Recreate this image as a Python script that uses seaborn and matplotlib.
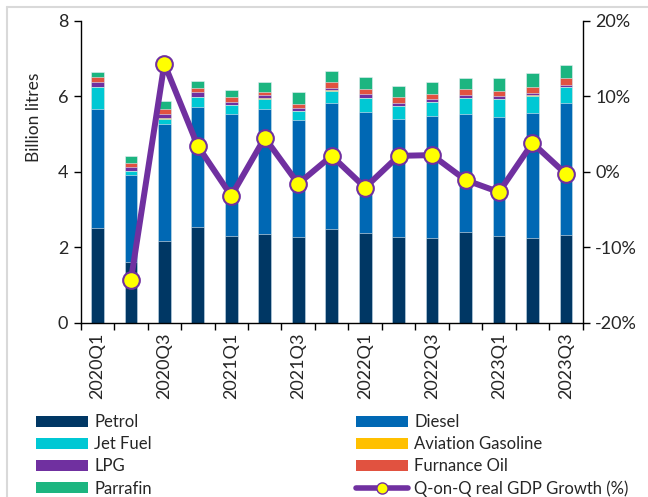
import numpy as np
import pandas as pd
import matplotlib
matplotlib.use('Agg')
import matplotlib.pyplot as plt
import seaborn as sns
from matplotlib.patches import Patch
from matplotlib.lines import Line2D

quarters = ['2020Q1', '2020Q2', '2020Q3', '2020Q4', '2021Q1', '2021Q2', '2021Q3', '2021Q4',
            '2022Q1', '2022Q2', '2022Q3', '2022Q4', '2023Q1', '2023Q2', '2023Q3']
petrol = [2.50, 1.60, 2.16, 2.53, 2.30, 2.35, 2.26, 2.47, 2.37, 2.26, 2.24, 2.41, 2.29, 2.24, 2.32]
diesel = [3.15, 2.32, 3.10, 3.19, 3.22, 3.30, 3.10, 3.36, 3.22, 3.14, 3.24, 3.11, 3.16, 3.31, 3.51]
jet_fuel = [0.59, 0.09, 0.14, 0.26, 0.25, 0.28, 0.25, 0.32, 0.35, 0.33, 0.37, 0.42, 0.47, 0.46, 0.41]
aviation_gasoline = [0.01, 0.01, 0.01, 0.01, 0.01, 0.01, 0.01, 0.01, 0.01, 0.01, 0.01, 0.01, 0.01, 0.01, 0.01]
lpg = [0.12, 0.11, 0.12, 0.11, 0.08, 0.08, 0.06, 0.05, 0.10, 0.09, 0.06, 0.08, 0.07, 0.07, 0.06]
furnance_oil = [0.13, 0.10, 0.13, 0.13, 0.12, 0.08, 0.12, 0.16, 0.14, 0.15, 0.15, 0.16, 0.15, 0.16, 0.17]
parrafin = [0.14, 0.18, 0.21, 0.17, 0.19, 0.28, 0.30, 0.30, 0.31, 0.30, 0.30, 0.28, 0.32, 0.37, 0.36]
gdp_growth = [np.nan, -14.4, 14.3, 3.4, -3.2, 4.5, -1.6, 2.1, -2.1, 2.1, 2.2, -1.1, -2.7, 3.8, -0.3]

sns.set_style('ticks')
plt.rcParams['font.family'] = ['Lato', 'DejaVu Sans']

fuels = [('Petrol', petrol, '#003764'),
         ('Diesel', diesel, '#0068b4'),
         ('Jet Fuel', jet_fuel, '#00c8d4'),
         ('Aviation Gasoline', aviation_gasoline, '#ffc000'),
         ('LPG', lpg, '#7030a0'),
         ('Furnance Oil', furnance_oil, '#e15240'),
         ('Parrafin', parrafin, '#1cb580')]
colors = {name: c for name, _, c in fuels}

fig = plt.figure(figsize=(6.48, 4.97), dpi=100)
ax = fig.add_axes([0.1245, 0.3507, 0.7747, 0.6076])

# stacked bars: draw cumulative totals from the top down
stack = np.zeros(len(quarters))
tops = []
for name, vals, col in fuels:
    stack = stack + np.array(vals)
    tops.append((name, stack.copy(), col))
for name, top, col in reversed(tops):
    sns.barplot(x=quarters, y=top, color=col, saturation=1, width=0.38, errorbar=None,
                edgecolor='#e8eef4', linewidth=0.4, ax=ax)

ax.set_xlim(-0.5, 14.5)
ax.set_ylim(0, 8)
ax.set_yticks([0, 2, 4, 6, 8])
ax.set_xticks(range(0, 15, 2))
ax.set_xticklabels(quarters[::2], rotation=90)
ax.set_xticks(np.arange(-0.5, 15, 1), minor=True)
ax.tick_params(axis='x', which='major', length=0, pad=7, labelsize=13)
ax.tick_params(axis='x', which='minor', length=5, width=1, direction='out', color='black')
ax.tick_params(axis='y', length=5, width=1, direction='out', labelsize=13, pad=4, color='black')
ax.set_xlabel('')
ax.set_ylabel('Billion litres', fontsize=12.5)
ax.yaxis.set_label_coords(-0.077, 0.68)
ax.spines['top'].set_visible(False)
ax.spines['right'].set_visible(False)
for s in ['left', 'bottom']:
    ax.spines[s].set_color('black')
    ax.spines[s].set_linewidth(1)

ax2 = ax.twinx()
gdp_df = pd.DataFrame({'pos': np.arange(len(quarters)), 'gdp': gdp_growth}).dropna()
sns.lineplot(data=gdp_df, x='pos', y='gdp', color='#7030a0', lw=4.3, marker='o', markersize=12,
             markerfacecolor='#ffff00', markeredgecolor='#7030a0', markeredgewidth=1.5, ax=ax2)
ax2.set_xlim(-0.5, 14.5)
ax2.set_ylim(-20, 20)
ax2.set_yticks([-20, -10, 0, 10, 20])
ax2.set_yticklabels([f'{v}%' for v in [-20, -10, 0, 10, 20]])
ax2.tick_params(axis='y', length=5, width=1, direction='out', labelsize=13, pad=4, color='black')
ax2.set_ylabel('')
ax2.set_xlabel('')
ax2.spines['top'].set_visible(False)
ax2.spines['left'].set_visible(False)
ax2.spines['bottom'].set_visible(False)
ax2.spines['right'].set_color('black')
ax2.spines['right'].set_linewidth(1)

leg_kw = dict(loc='upper left', frameon=False, fontsize=12, handlelength=3.1, handleheight=0.64,
              handletextpad=0.4, labelspacing=0.37, borderpad=0, borderaxespad=0)
left_names = ['Petrol', 'Jet Fuel', 'LPG', 'Parrafin']
fig.legend([Patch(facecolor=colors[n], linewidth=0) for n in left_names], left_names,
           bbox_to_anchor=(36 / 648, 1 - 414 / 497), **leg_kw)
right_names = ['Diesel', 'Aviation Gasoline', 'Furnance Oil']
right_handles = [Patch(facecolor=colors[n], linewidth=0) for n in right_names]
right_handles.append(Line2D([0], [0], color='#7030a0', lw=4, marker='o', markersize=8,
                            markerfacecolor='#ffff00', markeredgecolor='#7030a0', markeredgewidth=1))
fig.legend(right_handles, right_names + ['Q-on-Q real GDP Growth (%)'],
           bbox_to_anchor=(356 / 648, 1 - 414 / 497), **leg_kw)

# light frame around the chart
fig.add_artist(Line2D([7 / 648, 7 / 648], [0, 1 - 7 / 497], transform=fig.transFigure,
                      color='#d9d9d9', lw=1.5))
fig.add_artist(Line2D([7 / 648, 1], [1 - 7 / 497, 1 - 7 / 497], transform=fig.transFigure,
                      color='#d9d9d9', lw=1.5))

fig.savefig('out.png', dpi=100)
